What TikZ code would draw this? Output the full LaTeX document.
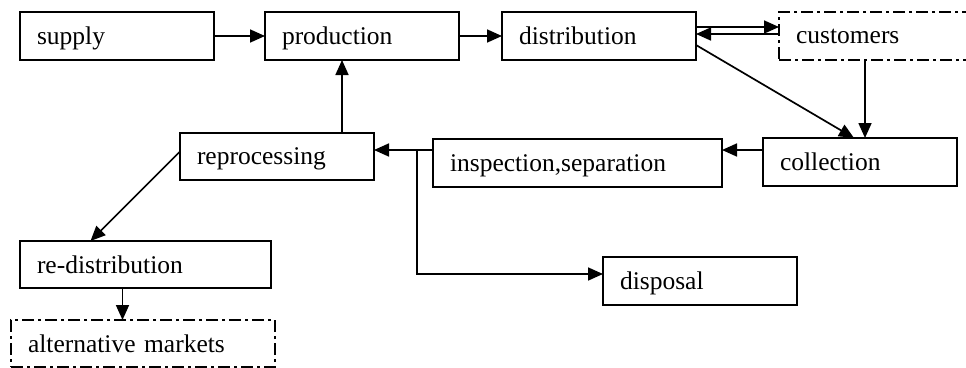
\documentclass[tikz,border=0pt]{standalone}
\usepackage{fontspec}
\setmainfont{Liberation Serif}
\usetikzlibrary{arrows.meta}
\begin{document}
\begin{tikzpicture}[x=1pt,y=-1pt,
  box/.style={draw, line width=1.7pt, anchor=north west, inner xsep=17pt, inner ysep=0pt, outer sep=0pt, align=left,
     font=\fontsize{25.5}{28}\selectfont, text depth=0pt},
  dd/.style={dash pattern=on 12pt off 4pt on 3pt off 4pt},
  arr/.style={line width=1.7pt, -{Triangle[length=15pt,width=13pt]}}]
\useasboundingbox (0,0) rectangle (966,367);
\node[box, text width=160pt, minimum height=48pt] (supply) at (20,12) {supply};
\node[box, text width=160pt, minimum height=48pt] (prod) at (265,12) {production};
\node[box, text width=160pt, minimum height=48pt] (distr) at (502,12) {distribution};
\node[box, dd, text width=166pt, minimum height=48pt] (cust) at (779,12) {customers};
\node[box, text width=160pt, minimum height=48pt] (coll) at (763,138) {collection};
\node[box, text width=255pt, minimum height=48pt] (insp) at (433,139) {inspection,separation};
\node[box, text width=160pt, minimum height=48pt] (disp) at (603,257) {disposal};
\node[box, text width=160pt, minimum height=47pt] (repro) at (180,133) {reprocessing};
\node[box, text width=217pt, minimum height=47pt] (redis) at (20,241) {re-distribution};
\node[box, dd, text width=230pt, minimum height=47pt] (alt) at (11,320) {alternative markets};
\coordinate (j) at (417,150);
\draw[arr] (supply) -- (prod);
\draw[arr] (prod) -- (distr);
\draw[arr] ([yshift=9pt]distr.east) -- ([yshift=9pt]cust.west);
\draw[arr] ([yshift=2pt]cust.west) -- ([yshift=2pt]distr.east);
\draw[arr] ([yshift=-9pt]distr.east) -- ([xshift=-6pt]coll.north);
\draw[arr] ([xshift=5pt]coll.north |- cust.south) -- ([xshift=5pt]coll.north);
\draw[arr] (j -| coll.west) -- (j -| insp.east);
\draw[arr] (j -| insp.west) -- (j -| repro.east);
\draw[arr] (j) |- ([yshift=7pt]disp.west);
\draw[arr] ([xshift=65pt]repro.north) -- ([xshift=65pt]repro.north |- prod.south);
\draw[arr] ([yshift=5pt]repro.west) -- ([xshift=-55pt]redis.north);
\draw[arr] ([xshift=-23pt]redis.south) -- ([xshift=-23pt]redis.south |- alt.north);
\end{tikzpicture}
\end{document}
